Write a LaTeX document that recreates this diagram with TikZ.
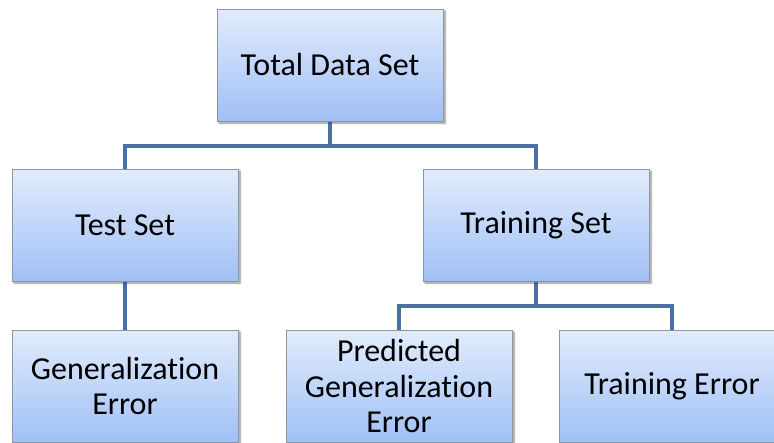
\documentclass[tikz,border=0pt]{standalone}
\usepackage{fontspec}
\setmainfont[Ligatures=NoCommon]{Carlito}
\usetikzlibrary{shadows.blur}
\definecolor{boxtop}{HTML}{E2ECFC}
\definecolor{boxbot}{HTML}{A0C0F6}
\definecolor{boxedge}{HTML}{8C949E}
\definecolor{linkblue}{HTML}{4A70A4}
\tikzset{
  box/.style={draw=boxedge, line width=0.8pt, top color=boxtop, bottom color=boxbot,
    minimum width=226pt, minimum height=112pt, inner sep=0pt, align=center,
    font=\fontsize{32}{35.5}\selectfont,
    blur shadow={shadow xshift=2pt, shadow yshift=-2pt, shadow blur steps=6, shadow opacity=25}},
  link/.style={draw=linkblue, line width=4pt}
}
\begin{document}
\begin{tikzpicture}[x=1pt,y=-1pt]
\useasboundingbox (0,0) rectangle (774,442);
\clip (0,0) rectangle (774,442);
% top level
\node[box] (total) at (330,65) {Total Data Set};
% second level
\node[box] (test) at (125,225) {Test Set};
\node[box] (train) at (536,225) {Training Set};
% third level
\node[box] (gen) at (125,386) {Generalization\\Error};
\node[box] (pred) at (399,386) {Predicted\\Generalization\\Error};
\node[box] (terr) at (672,386) {Training Error};
% connectors
\coordinate (j1) at (330,146);
\coordinate (j2) at (536,306);
\draw[link] (total.south) -- (j1);
\draw[link] (j1) -| (test.north);
\draw[link] (j1) -| (train.north);
\draw[link] (test.south) -- (gen.north);
\draw[link] (train.south) -- (j2);
\draw[link] (j2) -| (pred.north);
\draw[link] (j2) -| (terr.north);
% redraw boxes over connector ends
\node[box] at (total) {Total Data Set};
\node[box] at (test) {Test Set};
\node[box] at (train) {Training Set};
\node[box] at (gen) {Generalization\\Error};
\node[box] at (pred) {Predicted\\Generalization\\Error};
\node[box] at (terr) {Training Error};
\end{tikzpicture}
\end{document}
